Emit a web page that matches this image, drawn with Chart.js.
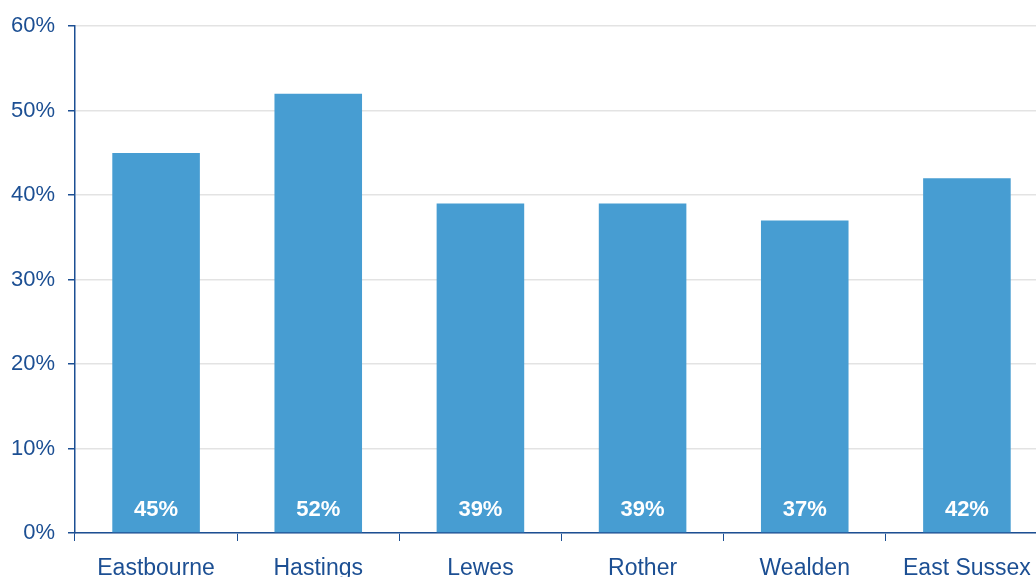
<!DOCTYPE html>
<html>
<head>
<meta charset="utf-8">
<script src="https://cdn.jsdelivr.net/npm/chart.js@4"></script>
<style>
  html, body { margin: 0; padding: 0; overflow: hidden; background: #fff; }
  #wrap { position: absolute; left: 0; top: 0; width: 1048px; height: 590px; }
</style>
</head>
<body>
<div id="wrap"><canvas id="chart"></canvas></div>
<script>
const categories = ['Eastbourne', 'Hastings', 'Lewes', 'Rother', 'Wealden', 'East Sussex'];
const values = [45, 52, 39, 39, 37, 42];

const blue = '#1c4f93';
const barColor = '#479dd2';

// white value labels near the base of each bar
const barLabels = {
  id: 'barLabels',
  afterDatasetsDraw(chart) {
    const ctx = chart.ctx;
    const meta = chart.getDatasetMeta(0);
    const base = chart.scales.y.getPixelForValue(0);
    ctx.save();
    ctx.fillStyle = '#fff';
    ctx.font = 'bold 22px "Liberation Sans", Arial, sans-serif';
    ctx.textAlign = 'center';
    ctx.textBaseline = 'middle';
    meta.data.forEach((bar, i) => {
      ctx.fillText(values[i] + '%', bar.x, base - 23);
    });
    ctx.restore();
  }
};

new Chart(document.getElementById('chart'), {
  type: 'bar',
  data: {
    labels: categories,
    datasets: [{ data: values, backgroundColor: barColor, barPercentage: 0.54, categoryPercentage: 1 }]
  },
  options: {
    responsive: true,
    maintainAspectRatio: false,
    animation: false,
    layout: { padding: { top: 24, left: 0, right: 0, bottom: 0 } },
    plugins: { legend: { display: false }, tooltip: { enabled: false } },
    scales: {
      x: {
        grid: { drawOnChartArea: false, tickColor: blue, tickLength: 8, offset: true },
        border: { color: blue, width: 1.5 },
        ticks: { color: blue, padding: 14, font: { family: '"Liberation Sans", Arial, sans-serif', size: 23 } },
        afterFit(s) { s.height = 57; }
      },
      y: {
        min: 0,
        max: 60,
        ticks: {
          stepSize: 10,
          color: blue,
          padding: 13,
          font: { family: '"Liberation Sans", Arial, sans-serif', size: 22 },
          callback: v => v + '%'
        },
        grid: { color: '#e3e3e3', lineWidth: 1.5, tickColor: blue, tickLength: 7 },
        border: { color: blue, width: 1.5 },
        afterFit(s) { s.width = 75; }
      }
    }
  },
  plugins: [barLabels]
});
</script>
</body>
</html>
